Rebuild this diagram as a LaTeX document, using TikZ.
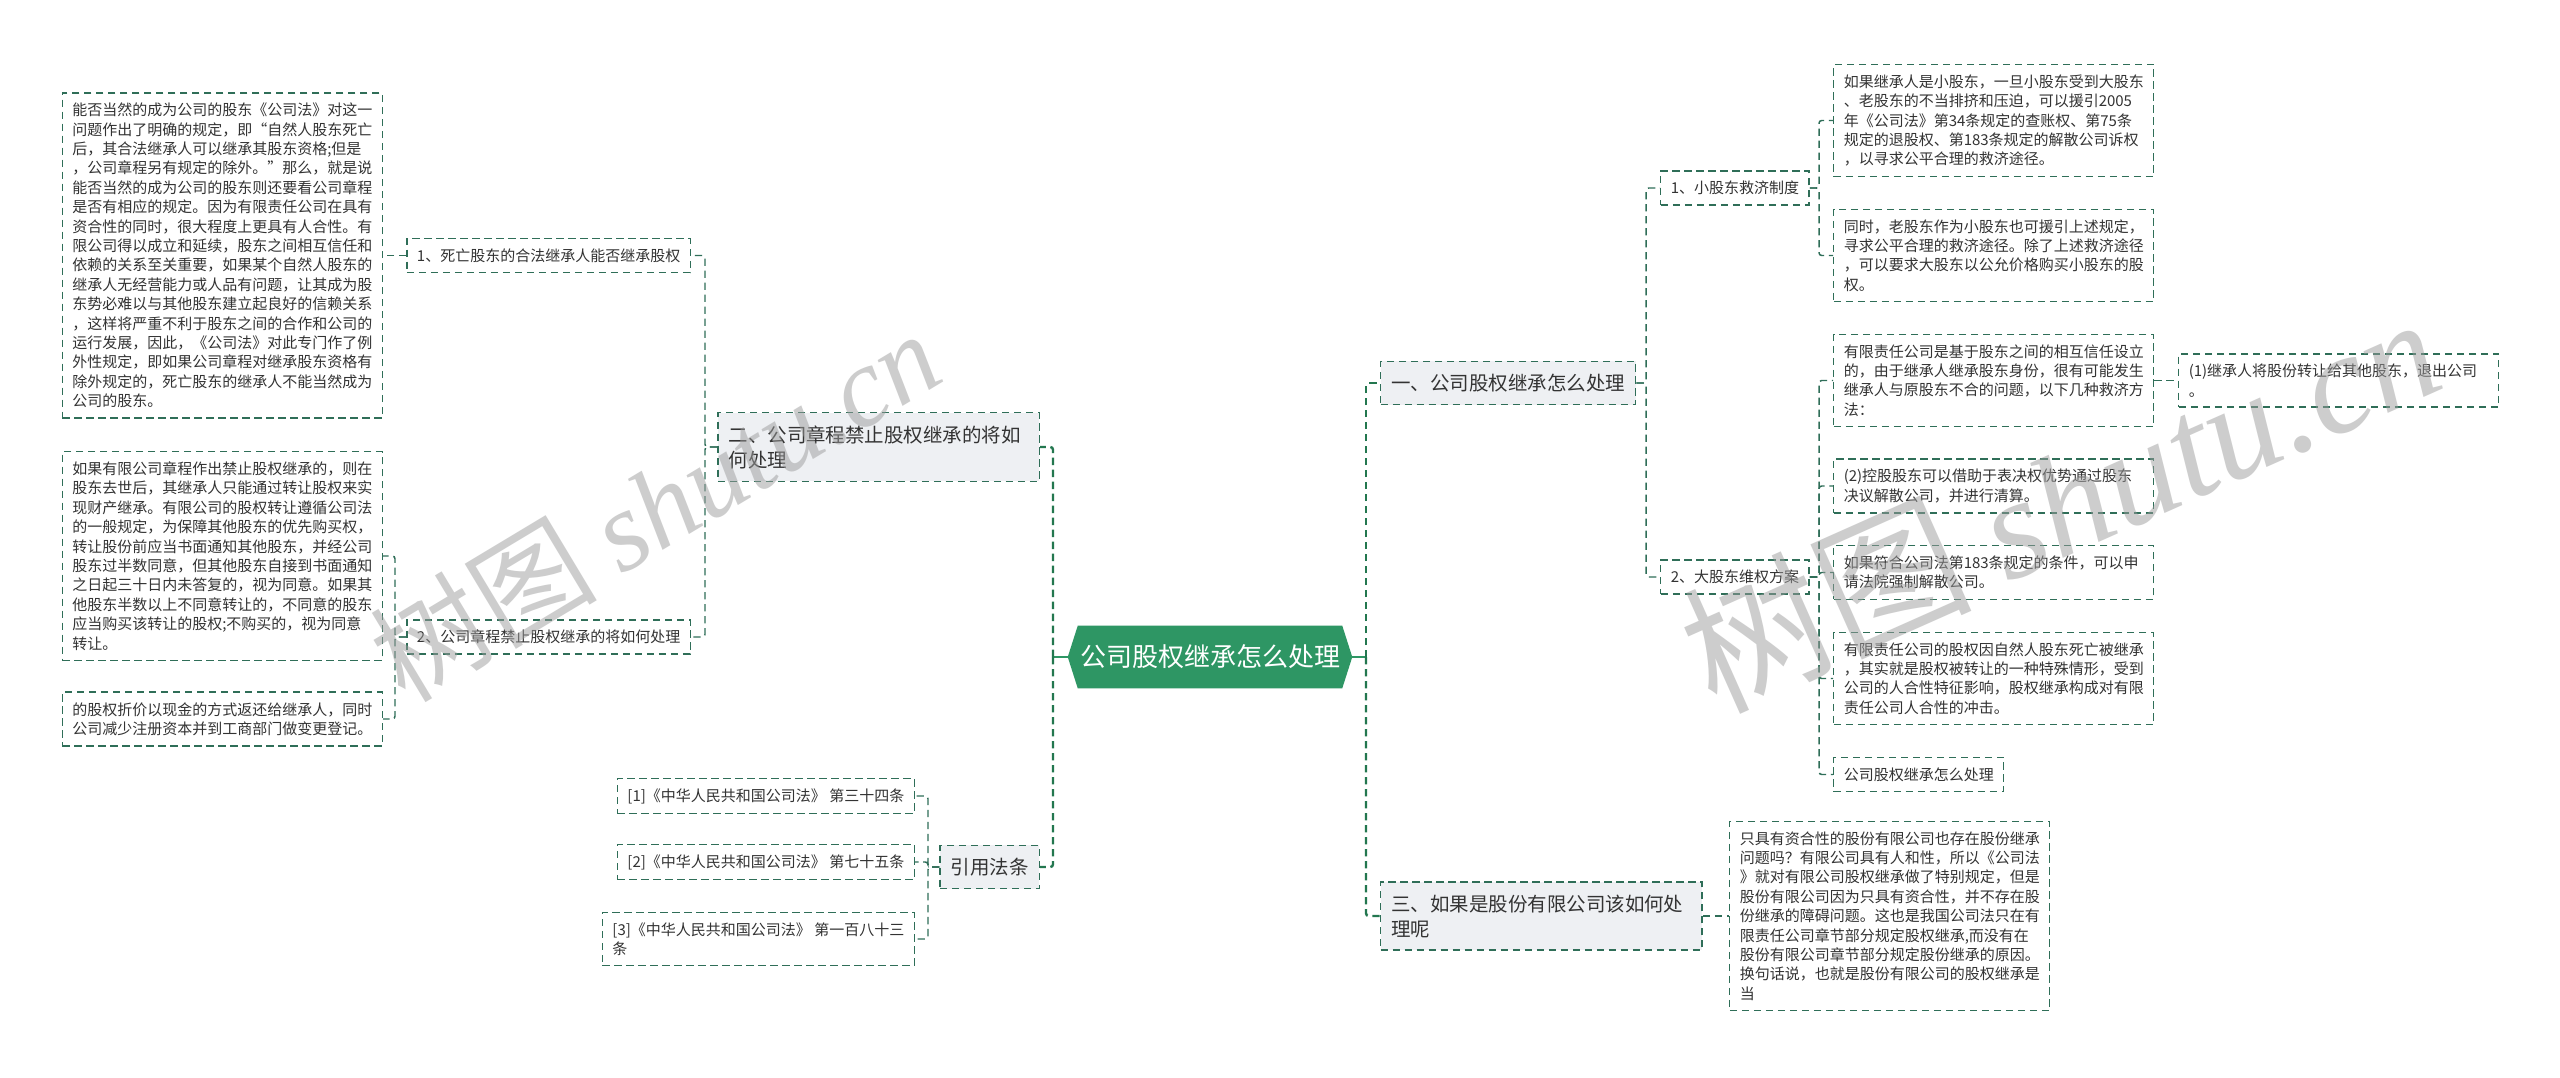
\documentclass[tikz,border=0pt]{standalone}
\usepackage{fontspec}
\setmainfont{Noto Sans CJK SC}
\newfontfamily\wmserif{Liberation Serif}
\usetikzlibrary{backgrounds,calc}
\definecolor{lc}{HTML}{2F6E58}
\definecolor{cg}{HTML}{2E9664}
\definecolor{mg}{HTML}{23774F}
\definecolor{l1fill}{HTML}{EEF0F3}
\definecolor{tc}{HTML}{333333}
\definecolor{wm}{HTML}{9C9C9C}
\tikzset{
  conn/.style={draw=lc, line width=1.1pt, dash pattern=on 5.5pt off 3.5pt, rounded corners=2pt},
  mconn/.style={draw=mg, line width=1.8pt, dash pattern=on 5.5pt off 3.5pt, rounded corners=2pt},
  cline/.style={draw=cg, line width=1.8pt},
  dbox/.style={draw=lc, line width=1.1pt, dash pattern=on 5.5pt off 3.5pt, fill=white, text=tc,
    font=\fontsize{11.25pt}{14.55pt}\selectfont, inner xsep=7.5pt, inner ysep=7.6pt},
  txt/.style={dbox, text width=225pt, align=left},
  sub/.style={dbox, align=left},
  lvl/.style={dbox, fill=l1fill, font=\fontsize{14.6pt}{18.75pt}\selectfont, inner xsep=8pt, inner ysep=9.5pt, align=left},
  wmark/.style={text=wm, text opacity=0.5, inner sep=0pt}
}
\begin{document}
\begin{tikzpicture}[x=0.75pt,y=-0.75pt]
\begin{scope}[on background layer]
\fill[white] (0,0) rectangle (2560,1078);
\end{scope}
\useasboundingbox (0,0) rectangle (2560,1078);

% centre
\node[font=\fontsize{19.5pt}{22pt}\selectfont, text=white, minimum width=213pt, minimum height=46.5pt, inner sep=0pt] (c) at (1210,657) {公司股权继承怎么处理};
\begin{scope}[on background layer]
\fill[cg] ([xshift=7.5pt]c.north west) -- ([xshift=-7.5pt]c.north east) -- (c.east) -- ([xshift=-7.5pt]c.south east) -- ([xshift=7.5pt]c.south west) -- (c.west) -- cycle;
\end{scope}

% left side
\node[txt, anchor=east] (lt) at (383,255.5) {能否当然的成为公司的股东《公司法》对这一\\问题作出了明确的规定，即“自然人股东死亡\\后，其合法继承人可以继承其股东资格;但是\\，公司章程另有规定的除外。”那么，就是说\\能否当然的成为公司的股东则还要看公司章程\\是否有相应的规定。因为有限责任公司在具有\\资合性的同时，很大程度上更具有人合性。有\\限公司得以成立和延续，股东之间相互信任和\\依赖的关系至关重要，如果某个自然人股东的\\继承人无经营能力或人品有问题，让其成为股\\东势必难以与其他股东建立起良好的信赖关系\\，这样将严重不利于股东之间的合作和公司的\\运行发展，因此，《公司法》对此专门作了例\\外性规定，即如果公司章程对继承股东资格有\\除外规定的，死亡股东的继承人不能当然成为\\公司的股东。};
\node[sub, anchor=east] (a1) at (691,255.5) {1、死亡股东的合法继承人能否继承股权};
\node[txt, anchor=east] (lm) at (383,556) {如果有限公司章程作出禁止股权继承的，则在\\股东去世后，其继承人只能通过转让股权来实\\现财产继承。有限公司的股权转让遵循公司法\\的一般规定，为保障其他股东的优先购买权，\\转让股份前应当书面通知其他股东，并经公司\\股东过半数同意，但其他股东自接到书面通知\\之日起三十日内未答复的，视为同意。如果其\\他股东半数以上不同意转让的，不同意的股东\\应当购买该转让的股权;不购买的，视为同意\\转让。};
\node[txt, anchor=east] (lb) at (383,719) {的股权折价以现金的方式返还给继承人，同时\\公司减少注册资本并到工商部门做变更登记。};
\node[sub, anchor=east] (a2) at (691,637) {2、公司章程禁止股权继承的将如何处理};
\node[lvl, anchor=east, text width=225pt] (n2) at (1040,447) {二、公司章程禁止股权继承的将如\\何处理};
\node[lvl, anchor=east] (nref) at (1040,867) {引用法条};
\node[sub, anchor=east] (r1) at (915,796) {[1]《中华人民共和国公司法》 第三十四条};
\node[sub, anchor=east] (r2) at (915,862) {[2]《中华人民共和国公司法》 第七十五条};
\node[sub, anchor=east] (r3) at (915,939) {[3]《中华人民共和国公司法》 第一百八十三\\条};

% right side
\node[lvl, anchor=west] (n1) at (1380,383) {一、公司股权继承怎么处理};
\node[lvl, anchor=west, text width=225pt] (n3) at (1380,916) {三、如果是股份有限公司该如何处\\理呢};
\node[sub, anchor=west] (s1) at (1660,188) {1、小股东救济制度};
\node[sub, anchor=west] (s2) at (1660,577) {2、大股东维权方案};
\node[txt, anchor=west] (q1) at (1833,120.5) {如果继承人是小股东，一旦小股东受到大股东\\、老股东的不当排挤和压迫，可以援引2005\\年《公司法》第34条规定的查账权、第75条\\规定的退股权、第183条规定的解散公司诉权\\，以寻求公平合理的救济途径。};
\node[txt, anchor=west] (q2) at (1833,255.5) {同时，老股东作为小股东也可援引上述规定，\\寻求公平合理的救济途径。除了上述救济途径\\，可以要求大股东以公允价格购买小股东的股\\权。};
\node[txt, anchor=west] (q3) at (1833,380.5) {有限责任公司是基于股东之间的相互信任设立\\的，由于继承人继承股东身份，很有可能发生\\继承人与原股东不合的问题，以下几种救济方\\法：};
\node[txt, anchor=west] (p1) at (2178,380.5) {(1)继承人将股份转让给其他股东，退出公司\\。};
\node[txt, anchor=west] (q4) at (1833,486) {(2)控股股东可以借助于表决权优势通过股东\\决议解散公司，并进行清算。};
\node[txt, anchor=west] (q5) at (1833,572.5) {如果符合公司法第183条规定的条件，可以申\\请法院强制解散公司。};
\node[txt, anchor=west] (q6) at (1833,678.5) {有限责任公司的股权因自然人股东死亡被继承\\，其实就是股权被转让的一种特殊情形，受到\\公司的人合性特征影响，股权继承构成对有限\\责任公司人合性的冲击。};
\node[sub, anchor=west] (q7) at (1833,774.5) {公司股权继承怎么处理};
\node[txt, anchor=west] (z) at (1729,916) {只具有资合性的股份有限公司也存在股份继承\\问题吗？有限公司具有人和性，所以《公司法\\》就对有限公司股权继承做了特别规定，但是\\股份有限公司因为只具有资合性，并不存在股\\份继承的障碍问题。这也是我国公司法只在有\\限责任公司章节部分规定股权继承,而没有在\\股份有限公司章节部分规定股份继承的原因。\\换句话说，也就是股份有限公司的股权继承是\\当};

% bus coordinates
\coordinate (bL) at (1053,657);
\coordinate (bR) at (1366,657);
\coordinate (b2) at (705,447);
\coordinate (ba2) at (395,637);
\coordinate (bref) at (928,867);
\coordinate (b1) at (1646,383);
\coordinate (bs1) at (1819,188);
\coordinate (bs2) at (1819,577);

% connectors
\draw[cline] (c.west) -- (bL);
\draw[cline] (c.east) -- (bR);
\draw[mconn] (bL) |- (n2.east);
\draw[mconn] (bL) |- (nref.east);
\draw[mconn] (bR) |- (n1.west);
\draw[mconn] (bR) |- (n3.west);

\draw[conn] (n2.west) -- (b2) |- (a1.east);
\draw[conn] (n2.west) -- (b2) |- (a2.east);
\draw[conn] (a1.west) -- (lt.east);
\draw[conn] (a2.west) -- (ba2) |- (lm.east);
\draw[conn] (a2.west) -- (ba2) |- (lb.east);
\draw[conn] (nref.west) -- (bref) |- (r1.east);
\draw[conn] (nref.west) -- (bref) |- (r2.east);
\draw[conn] (nref.west) -- (bref) |- (r3.east);

\draw[conn] (n1.east) -- (b1) |- (s1.west);
\draw[conn] (n1.east) -- (b1) |- (s2.west);
\draw[conn] (s1.east) -- (bs1) |- (q1.west);
\draw[conn] (s1.east) -- (bs1) |- (q2.west);
\draw[conn] (s2.east) -- (bs2) |- (q3.west);
\draw[conn] (s2.east) -- (bs2) |- (q4.west);
\draw[conn] (s2.east) -- (bs2) |- (q5.west);
\draw[conn] (s2.east) -- (bs2) |- (q6.west);
\draw[conn] (s2.east) -- (bs2) |- (q7.west);
\draw[conn] (q3.east) -- (p1.west);
\draw[conn] (n3.east) -- (z.west);

% watermarks
\node[wmark, rotate=31, font=\fontsize{85pt}{90pt}\selectfont] (wm1) at (655,505) {树图 {\wmserif\itshape shutu.cn}};
\node[wmark, rotate=24, font=\fontsize{108pt}{114pt}\selectfont] (wm2) at (2060,500) {树图 {\wmserif\itshape shutu.cn}};
\end{tikzpicture}
\end{document}
